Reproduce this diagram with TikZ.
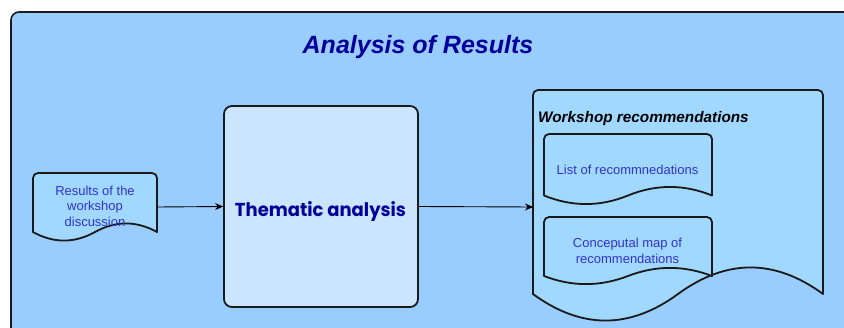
\documentclass[tikz,border=0pt]{standalone}
\usepackage{fontspec}
\setmainfont{Liberation Sans}
\newfontfamily\roundfont{Poppins}
\usetikzlibrary{arrows.meta}

\definecolor{panelblue}{HTML}{99CCFF}
\definecolor{boxblue}{HTML}{CCE5FF}
\definecolor{docblue}{HTML}{A0D8FF}
\definecolor{titleblue}{HTML}{000099}
\definecolor{labelblue}{HTML}{3333CC}
\definecolor{edgegray}{HTML}{1A1A1A}

% Document shape with a wavy bottom edge.
% #1 style, #2 left, #3 top, #4 width, #5 y where the sides end, #6 wave depth
\newcommand\docshape[6]{%
  \pgfmathsetmacro\dL{#2}\pgfmathsetmacro\dR{#2+#4}%
  \pgfmathsetmacro\dM{#2+#4/2}%
  \pgfmathsetmacro\cA{#2+#4*5/6}\pgfmathsetmacro\cB{#2+#4*2/3}%
  \pgfmathsetmacro\cC{#2+#4/3}\pgfmathsetmacro\cD{#2+#4/6}%
  \pgfmathsetmacro\yT{-(#3)}\pgfmathsetmacro\yS{-(#5)}%
  \pgfmathsetmacro\yU{-(#5)+0.6*(#6)}\pgfmathsetmacro\yL{-(#5)-0.6*(#6)}%
  \pgfmathsetmacro\yK{-(#3)-10}%
  \draw[#1] (\dL,\yS) [rounded corners=5pt] -- (\dL,\yT) -- (\dR,\yT) -- (\dR,\yK)
    [sharp corners] -- (\dR,\yS)
    .. controls (\cA,\yU) and (\cB,\yU) .. (\dM,\yS)
    .. controls (\cC,\yL) and (\cD,\yL) .. (\dL,\yS) -- cycle;
}

\tikzset{
  panel/.style={draw=edgegray, line width=1.6pt, fill=panelblue, rounded corners=8pt},
  procbox/.style={draw=edgegray, line width=1.8pt, fill=boxblue, rounded corners=8pt,
    minimum width=194pt, minimum height=201pt, inner sep=0pt},
  docfill/.style={draw=edgegray, line width=1.8pt, fill=docblue, line join=round},
  anchorbox/.style={inner sep=0pt, outer sep=0pt},
  label/.style={text=labelblue, font=\fontsize{13}{15.5}\selectfont, align=center},
  arr/.style={draw=black, line width=0.9pt, -{Stealth[length=8pt,width=7pt]}},
}

\begin{document}
\begin{tikzpicture}[x=1pt,y=1pt]
  \useasboundingbox (0,0) rectangle (844,-327);
  \clip (0,0) rectangle (844,-327);
  \fill[white] (0,0) rectangle (844,-327);

  % outer panel
  \draw[panel] (11,-12) rectangle (880,-360);
  \node[anchor=base, text=titleblue, font=\bfseries\itshape\fontsize{25}{30}\selectfont]
    (title) at (418,-53) {Analysis of Results};

  % input document
  \docshape{docfill}{33}{173}{124}{232}{19}
  \node[anchorbox, anchor=north west, minimum width=124pt, minimum height=68pt] (res) at (33,-173) {};
  \node[label] (restext) at (95,-206) {Results of the\\workshop\\discussion};

  % process box
  \node[procbox] (them) at (321,-206.5) {};
  \node[text=titleblue, anchor=base, inner sep=0pt] (themtext) at (320.5,-216)
    {\resizebox{171pt}{15pt}{\roundfont\bfseries Thematic analysis}};

  % output document with its two parts
  \docshape{docfill}{533}{90}{290}{294}{59}
  \node[anchorbox, anchor=north west, minimum width=290pt, minimum height=234pt] (recs) at (533,-90) {};
  \node[anchor=base west, inner sep=0pt, font=\bfseries\itshape\fontsize{15.3}{18}\selectfont]
    (recstitle) at (538,-122) {Workshop recommendations};

  \docshape{docfill}{544}{134}{168}{195.5}{19}
  \node[label] (list) at (627.5,-169.5) {List of recommnedations};

  \docshape{docfill}{544}{217}{168}{276}{18}
  \node[label, font=\fontsize{13}{16}\selectfont] (cmap) at (627.5,-250.5) {Conceputal map of\\recommendations};

  % flow
  \draw[arr] (res.east) -- (them.west);
  \draw[arr] (them.east) -- (recs.west);
\end{tikzpicture}
\end{document}
